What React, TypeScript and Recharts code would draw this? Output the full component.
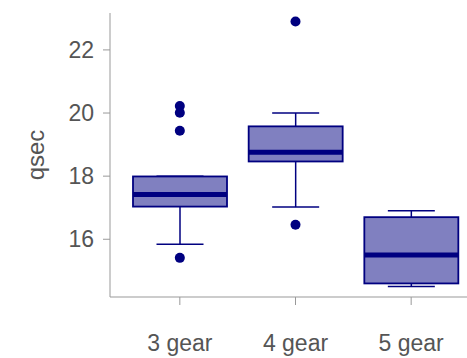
import { ComposedChart, Bar, Scatter, XAxis, YAxis } from 'recharts'

// mtcars qsec by gear
const gears = ['3 gear', '4 gear', '5 gear']
const whiskerLow = [15.84, 17.02, 14.5]
const q1 = [17.035, 18.465, 14.6]
const median = [17.42, 18.755, 15.5]
const q3 = [17.99, 19.5775, 16.7]
const whiskerHigh = [18.0, 20.0, 16.9]

const outlierGear = ['3 gear', '3 gear', '3 gear', '3 gear', '4 gear', '4 gear']
const outlierQsec = [15.41, 19.44, 20.01, 20.22, 16.46, 22.9]

const yTicks = [16, 18, 20, 22]

const NAVY = '#000080'
const FILL = '#8080c0'
const AXIS = '#999999'
const TEXT = '#555555'
const FONT = 'Liberation Sans, Arial, sans-serif'

const data = gears.map((g, i) => ({
  gear: g,
  range: [whiskerLow[i], whiskerHigh[i]],
  q1: q1[i],
  median: median[i],
  q3: q3[i],
}))

const outliers = outlierGear.map((g, i) => ({ gear: g, qsec: outlierQsec[i] }))

function BoxShape(props: any) {
  const { x, y, width, height, payload } = props
  const [lo, hi] = payload.range
  const toY = (v: number) => y + ((hi - v) / (hi - lo)) * height
  const cx = x + width / 2
  const capHalf = width / 4
  const yq1 = toY(payload.q1)
  const yq3 = toY(payload.q3)
  const ymed = toY(payload.median)
  return (
    <g>
      <line x1={cx} x2={cx} y1={y} y2={yq3} stroke={NAVY} strokeWidth={1.5} />
      <line x1={cx} x2={cx} y1={yq1} y2={y + height} stroke={NAVY} strokeWidth={1.5} />
      <line x1={cx - capHalf} x2={cx + capHalf} y1={y} y2={y} stroke={NAVY} strokeWidth={1.5} />
      <line
        x1={cx - capHalf}
        x2={cx + capHalf}
        y1={y + height}
        y2={y + height}
        stroke={NAVY}
        strokeWidth={1.5}
      />
      <rect
        x={x}
        y={yq3}
        width={width}
        height={yq1 - yq3}
        fill={FILL}
        stroke={NAVY}
        strokeWidth={1.8}
      />
      <line x1={x} x2={x + width} y1={ymed} y2={ymed} stroke={NAVY} strokeWidth={5} />
    </g>
  )
}

const Dot = (props: any) => <circle cx={props.cx} cy={props.cy} r={5} fill={NAVY} />

export default function App() {
  return (
    <div
      style={{
        position: 'absolute',
        left: 0,
        top: 0,
        width: 467,
        height: 358,
        overflow: 'hidden',
        background: '#fff',
      }}
    >
      <ComposedChart
        width={484}
        height={358}
        data={data}
        margin={{ top: 13, right: 3, bottom: 0, left: 0 }}
      >
        <XAxis
          dataKey="gear"
          type="category"
          allowDuplicatedCategory={false}
          padding={{ left: 12, right: 12 }}
          height={61}
          stroke={AXIS}
          tickSize={8}
          tickMargin={30}
          tick={{ fill: TEXT, fontSize: 23, fontFamily: FONT }}
        />
        <YAxis
          type="number"
          domain={[14.17, 23.17]}
          ticks={yTicks}
          allowDataOverflow
          width={110}
          stroke={AXIS}
          tickSize={7}
          tickMargin={9}
          tick={{ fill: TEXT, fontSize: 23, fontFamily: FONT }}
          label={{
            content: ({ viewBox }: any) => (
              <text
                x={35}
                y={viewBox.y + viewBox.height / 2}
                transform={`rotate(-90, 35, ${viewBox.y + viewBox.height / 2})`}
                textAnchor="middle"
                dominantBaseline="central"
                fill={TEXT}
                fontSize={24}
                fontFamily={FONT}
              >
                qsec
              </text>
            ),
          }}
        />
        <Bar dataKey="range" barSize={94} shape={BoxShape} isAnimationActive={false} />
        <Scatter data={outliers} dataKey="qsec" shape={Dot} isAnimationActive={false} />
      </ComposedChart>
    </div>
  )
}
